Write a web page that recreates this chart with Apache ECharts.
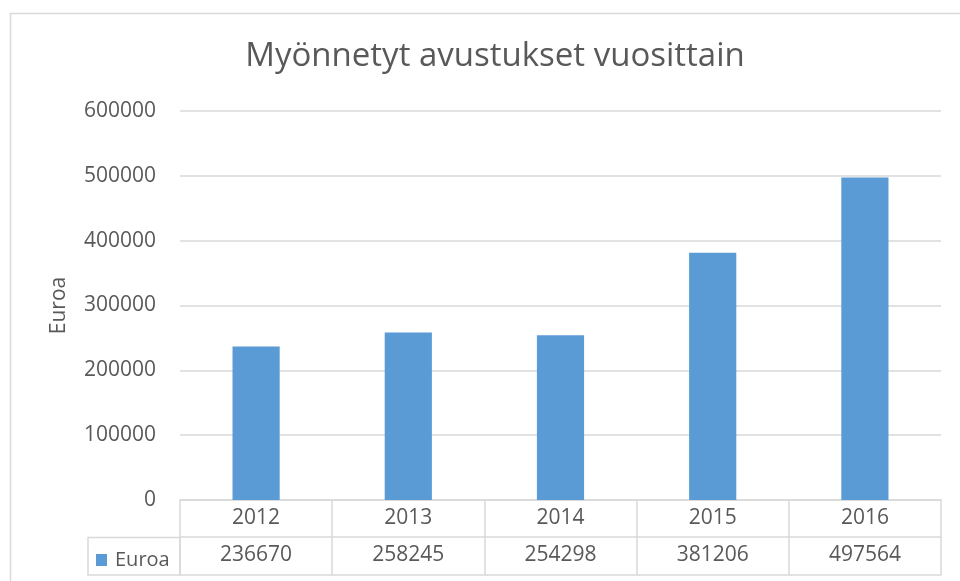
<!DOCTYPE html>
<html>
<head>
<meta charset="utf-8">
<script src="https://cdn.jsdelivr.net/npm/echarts@6/dist/echarts.min.js"></script>
<style>
  html, body { margin: 0; padding: 0; background: #fff; }
  #chart { width: 960px; height: 581px; }
</style>
</head>
<body>
<div id="chart"></div>
<script>
// vuodet ja myönnetyt avustukset (euroa)
const years = ['2012', '2013', '2014', '2015', '2016'];
const amounts = [236670, 258245, 254298, 381206, 497564];
const seriesName = 'Euroa';

const textColor = '#595959';
const lineColor = '#D9D9D9';
const font = 'Open Sans';

const chart = echarts.init(document.getElementById('chart'));

const option = {
  backgroundColor: '#fff',
  animation: false,
  textStyle: { fontFamily: font, color: textColor },
  title: {
    text: 'Myönnetyt avustukset vuosittain',
    left: 490,
    top: 35,
    textAlign: 'center',
    textStyle: { fontFamily: font, fontSize: 33, fontWeight: 'normal', color: textColor }
  },
  legend: {
    data: [seriesName],
    left: 91,
    top: 545,
    icon: 'rect',
    itemWidth: 11,
    itemHeight: 12,
    itemGap: 0,
    selectedMode: false,
    textStyle: { fontFamily: font, fontSize: 20, color: textColor, padding: [0, 0, 0, 3] }
  },
  grid: { left: 180, right: 19, top: 111, bottom: 81 },
  xAxis: [
    {
      type: 'category',
      data: years,
      position: 'bottom',
      axisLine: { show: true, lineStyle: { color: lineColor, width: 1.5 } },
      axisTick: { show: true, length: 75, lineStyle: { color: lineColor, width: 1.5 } },
      axisLabel: { fontFamily: font, fontSize: 21, color: textColor, margin: 8 }
    },
    {
      type: 'category',
      data: amounts.map(String),
      position: 'bottom',
      offset: 37,
      axisLine: { show: true, lineStyle: { color: lineColor, width: 1.5 } },
      axisTick: { show: false },
      axisLabel: { fontFamily: font, fontSize: 21, color: textColor, margin: 8 }
    },
    {
      type: 'category',
      data: years,
      position: 'bottom',
      offset: 75,
      axisLine: { show: true, lineStyle: { color: lineColor, width: 1.5 } },
      axisTick: { show: false },
      axisLabel: { show: false }
    }
  ],
  yAxis: {
    type: 'value',
    min: 0,
    max: 600000,
    interval: 100000,
    name: 'Euroa',
    nameLocation: 'middle',
    nameGap: 110,
    nameRotate: 90,
    nameTextStyle: { fontFamily: font, fontSize: 21, color: textColor },
    axisLine: { show: false },
    axisTick: { show: false },
    axisLabel: {
      fontFamily: font, fontSize: 21, color: textColor, margin: 24,
      formatter: (v) => String(v)
    },
    splitLine: { lineStyle: { color: lineColor, width: 1.5 } }
  },
  series: [
    {
      name: seriesName,
      type: 'bar',
      data: amounts,
      barWidth: '31%',
      itemStyle: { color: '#5B9BD5' }
    }
  ],
  graphic: [
    {
      type: 'rect',
      shape: { x: 10.5, y: 13.5, width: 980, height: 600 },
      style: { fill: 'none', stroke: lineColor, lineWidth: 1.5 },
      silent: true
    },
    {
      // sarjan nimen solu taulukossa
      type: 'rect',
      shape: { x: 88, y: 537.5, width: 92, height: 37.5 },
      style: { fill: 'none', stroke: lineColor, lineWidth: 1.5 },
      silent: true
    }
  ]
};

chart.setOption(option);
</script>
</body>
</html>
